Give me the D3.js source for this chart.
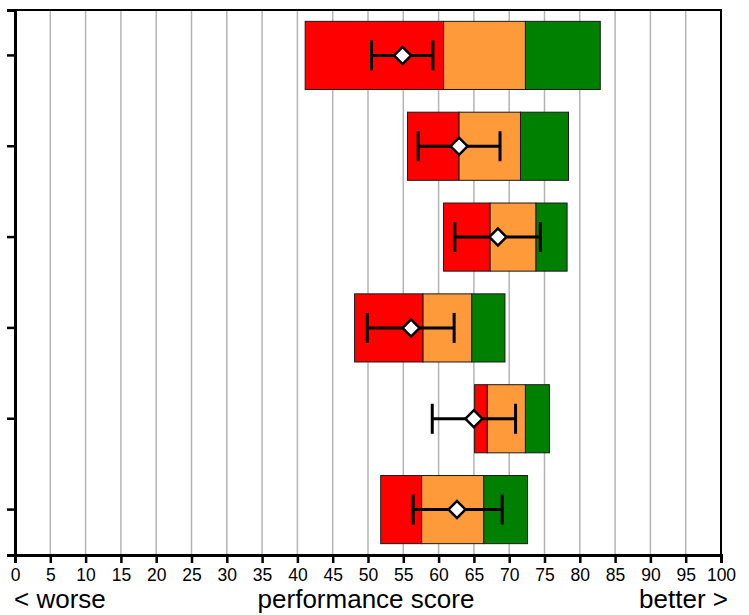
<!DOCTYPE html>
<html>
<head>
<meta charset="utf-8">
<script src="https://cdn.jsdelivr.net/npm/d3@7"></script>
<style>
  body { margin: 0; background: #fff; }
  text { font-family: "Liberation Sans", Arial, sans-serif; }
</style>
</head>
<body>
<svg id="chart" width="749" height="615"></svg>
<script>
// one entry per row, top to bottom
var rows = ["r1", "r2", "r3", "r4", "r5", "r6"];
var redStart    = [41.1, 55.6, 60.7, 48.1, 65.1, 51.8];
var orangeStart = [60.7, 62.9, 67.3, 57.8, 66.9, 57.6];
var greenStart  = [72.3, 71.6, 73.8, 64.7, 72.3, 66.4];
var greenEnd    = [82.9, 78.4, 78.2, 69.4, 75.7, 72.6];
var scoreMean   = [54.9, 62.9, 68.4, 56.1, 65.0, 62.6];
var errLow      = [50.5, 57.1, 62.3, 49.9, 59.1, 56.4];
var errHigh     = [59.2, 68.7, 74.4, 62.2, 70.9, 69.0];
var xTicks = d3.range(0, 101, 5);

var plotL = 15, plotR = 721, plotT = 10, plotB = 555;

var svg = d3.select("#chart");

var x = d3.scaleLinear().domain([0, 100]).range([plotL, plotR]);
var y = d3.scaleBand().domain(rows).range([plotT, plotB])
  .paddingInner(0.25).paddingOuter(0.125);

// grid
svg.append("g").selectAll("line")
  .data(xTicks.filter(function(d){ return d > 0 && d < 100; }))
  .enter().append("line")
  .attr("x1", function(d){ return x(d); })
  .attr("x2", function(d){ return x(d); })
  .attr("y1", plotT).attr("y2", plotB)
  .attr("stroke", "#b4b4b4")
  .attr("stroke-width", 1.5);

// stacked bars
var segs = [];
rows.forEach(function(r, i) {
  segs.push({row: r, a: redStart[i], b: orangeStart[i], c: "#ff0000"});
  segs.push({row: r, a: orangeStart[i], b: greenStart[i], c: "#ff9a3a"});
  segs.push({row: r, a: greenStart[i], b: greenEnd[i], c: "#008000"});
});

svg.append("g").selectAll("rect")
  .data(segs)
  .enter().append("rect")
  .attr("x", function(d){ return x(d.a); })
  .attr("width", function(d){ return x(d.b) - x(d.a); })
  .attr("y", function(d){ return y(d.row); })
  .attr("height", y.bandwidth())
  .attr("fill", function(d){ return d.c; })
  .attr("stroke", "#1a1a1a")
  .attr("stroke-width", 1);

// error bars
var eb = svg.append("g").selectAll("g")
  .data(rows)
  .enter().append("g")
  .attr("transform", function(d){ return "translate(0," + (y(d) + y.bandwidth() / 2) + ")"; });

eb.append("line")
  .attr("x1", function(d, i){ return x(errLow[i]); })
  .attr("x2", function(d, i){ return x(errHigh[i]); })
  .attr("stroke", "#000").attr("stroke-width", 3);

eb.append("line")
  .attr("x1", function(d, i){ return x(errLow[i]); })
  .attr("x2", function(d, i){ return x(errLow[i]); })
  .attr("y1", -15).attr("y2", 15)
  .attr("stroke", "#000").attr("stroke-width", 3);

eb.append("line")
  .attr("x1", function(d, i){ return x(errHigh[i]); })
  .attr("x2", function(d, i){ return x(errHigh[i]); })
  .attr("y1", -15).attr("y2", 15)
  .attr("stroke", "#000").attr("stroke-width", 3);

eb.append("path")
  .attr("d", d3.symbol(d3.symbolSquare, 145)())
  .attr("transform", function(d, i){ return "translate(" + x(scoreMean[i]) + ",0) rotate(45)"; })
  .attr("fill", "#fff")
  .attr("stroke", "#000")
  .attr("stroke-width", 2.5);

// frame
svg.append("rect")
  .attr("x", plotL).attr("y", plotT)
  .attr("width", plotR - plotL).attr("height", plotB - plotT)
  .attr("fill", "none")
  .attr("stroke", "#000")
  .attr("stroke-width", 2);

// axes
var xAxis = svg.append("g")
  .attr("transform", "translate(0," + plotB + ")")
  .call(d3.axisBottom(x).tickValues(xTicks).tickSize(8).tickPadding(6));
xAxis.select(".domain").attr("stroke-width", 3);
xAxis.selectAll(".tick line").attr("stroke-width", 2.5);
xAxis.selectAll(".tick text")
  .attr("font-size", "17.5px")
  .attr("font-family", "Liberation Sans, Arial, sans-serif")
  .attr("fill", "#000");

var yAxis = svg.append("g")
  .attr("transform", "translate(" + plotL + ",0)")
  .call(d3.axisLeft(y).tickSize(8).tickFormat(""));
yAxis.select(".domain").attr("stroke-width", 3);
yAxis.selectAll(".tick line").attr("stroke-width", 2.5);

// bottom captions
svg.append("text")
  .attr("x", 14).attr("y", 608)
  .text("< worse")
  .attr("font-size", "26px");

svg.append("text")
  .attr("x", 366).attr("y", 608)
  .text("performance score")
  .attr("font-size", "26px")
  .attr("text-anchor", "middle");

svg.append("text")
  .attr("x", 728).attr("y", 608)
  .text("better >")
  .attr("font-size", "26px")
  .attr("text-anchor", "end");
</script>
</body>
</html>
